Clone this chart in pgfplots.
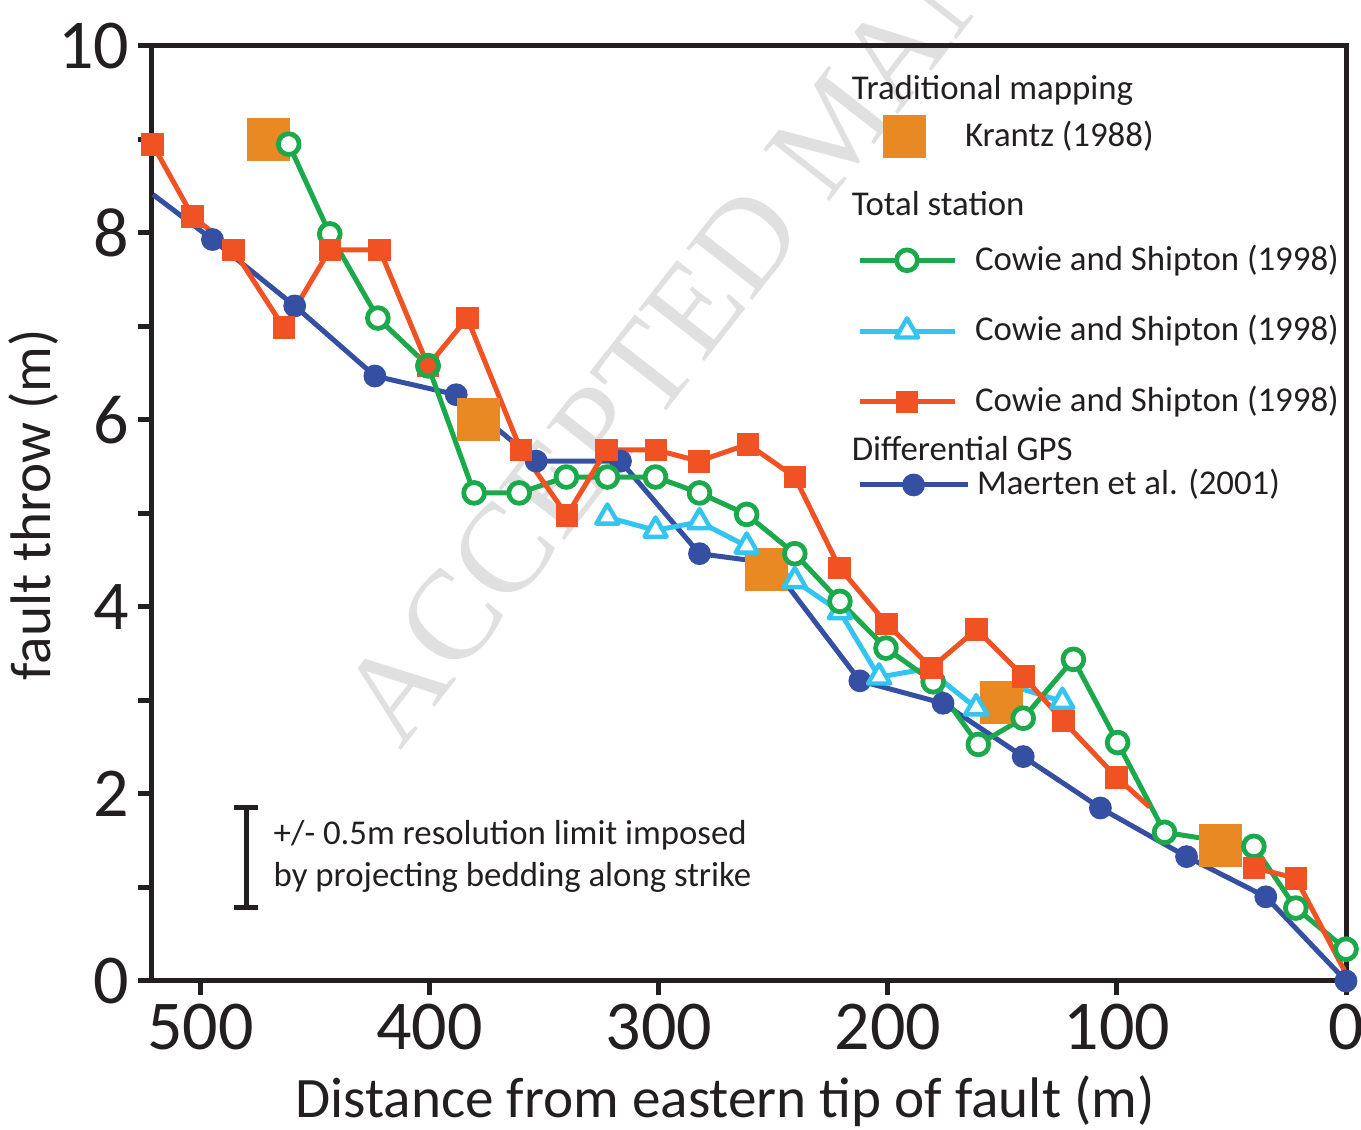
\documentclass[border=0pt]{standalone}
\usepackage{pgfplots}
\pgfplotsset{compat=1.18}
\usepackage{fontspec}
\setmainfont{Carlito}
\newfontfamily\wmfont{Liberation Serif}
\definecolor{axiscol}{HTML}{231F20}
\definecolor{bluec}{HTML}{3550A3}
\definecolor{greenc}{HTML}{1CA94B}
\definecolor{cyanc}{HTML}{34C4F0}
\definecolor{orc}{HTML}{F05223}
\definecolor{krc}{HTML}{E88923}
\pgfplotsset{
  bstyle/.style={color=bluec, line width=1.25pt, line join=round, mark=*, mark size=2.7pt, mark options={fill=bluec, draw=bluec, line width=0.3pt, solid}},
  gstyle/.style={color=greenc, line width=1.25pt, line join=round, mark=*, mark size=2.6pt, mark options={fill=white, draw=greenc, line width=1.2pt, solid}},
  cstyle/.style={color=cyanc, line width=1.25pt, line join=round, mark=triangle*, mark size=3.2pt, mark options={fill=white, draw=cyanc, line width=1.1pt, solid}},
  ostyle/.style={color=orc, line width=1.25pt, line join=round, mark=square*, mark size=2.7pt, mark options={fill=orc, draw=orc, line width=0.2pt, solid}},
  kstyle/.style={only marks, mark=square*, mark size=5.25pt, mark options={fill=krc, draw=krc, line width=0pt}},
  hiddenax/.style={at={(0,0)}, anchor=south west, scale only axis, width=298.5pt, height=233.75pt,
    hide axis, xmin=0, xmax=1, ymin=0, ymax=1},
  lgbase/.style={legend style={draw=none, fill=none, inner sep=0pt, outer sep=0pt,
    font=\fontsize{8.7}{10}\selectfont, text=axiscol, nodes={inner sep=0pt}}, legend cell align=left},
}
\newcommand\hdr[2]{\node[anchor=west, inner sep=0pt, font=\fontsize{8.7}{10}\selectfont, text=axiscol] at (axis description cs:0.5854,#1) {#2};}
\begin{document}
\begin{tikzpicture}
\useasboundingbox (-38pt,-37.25pt) rectangle (302.25pt,245.25pt);
\node[overlay, rotate=52, anchor=base west, inner sep=0pt, text=black!12, font=\wmfont\fontsize{32}{32}\selectfont] at (62pt,57.25pt) {ACCEPTED MANUSCRIPT};
\begin{axis}[
  at={(0,0)}, anchor=south west,
  scale only axis, width=298.5pt, height=233.75pt,
  x dir=reverse, xmin=0, xmax=521.2, ymin=0, ymax=10,
  clip=false,
  axis line style={line width=1.25pt, draw=axiscol},
  xtick={0,100,200,300,400,500},
  ytick={0,2,4,6,8,10},
  minor ytick={1,3,5,7,9},
  tick align=outside,
  xtick pos=left, ytick pos=left,
  major tick length=3.5pt, minor tick length=3.5pt,
  tick style={line width=1.25pt, draw=axiscol},
  ticklabel style={font=\fontsize{17.5}{18}\selectfont, text=axiscol},
  /pgf/number format/assume math mode=true,
  yticklabel style={inner xsep=2pt},
  xticklabel style={inner ysep=2pt},
  xlabel={Distance from eastern tip of fault (m)},
  ylabel={fault throw (m)},
  label style={font=\fontsize{14.3}{16}\selectfont, text=axiscol},
  xlabel style={at={(axis description cs:0.4799,-0.1465)}, anchor=base},
  ylabel style={at={(axis description cs:-0.0854,0.509)}, anchor=base},
  lgbase,
  legend style={at={(axis description cs:0.5905,0.6950)}, anchor=west, row sep=9.85pt, column sep=4.5pt},
  legend image code/.code={\draw[mark repeat=2,mark phase=2,#1] plot coordinates {(0pt,0pt) (11.875pt,0pt) (23.75pt,0pt)};},
]
% blue line (Maerten et al. 2001)
\addplot[bstyle, mark=none, forget plot] coordinates {
(520.7,8.41) (494.8,7.93) (458.9,7.22) (423.9,6.47) (388.4,6.27) (353.5,5.56) (316.7,5.56) (282.2,4.57) (251.3,4.47) (212.2,3.21) (175.9,2.97) (140.9,2.40) (107.2,1.85) (69.6,1.33) (35.0,0.90) (0,0)};
\addplot[bstyle, only marks, forget plot] coordinates {
(494.8,7.93) (458.9,7.22) (423.9,6.47) (388.4,6.27) (353.5,5.56) (316.7,5.56) (282.2,4.57) (251.3,4.47) (212.2,3.21) (175.9,2.97) (140.9,2.40) (107.2,1.85) (69.6,1.33) (35.0,0.90) (0,0)};
% cyan line
\addplot[cstyle, mark=none, forget plot] coordinates {
(322.4,4.96) (301.4,4.82) (282.2,4.91) (261.6,4.65) (240.6,4.28) (220.9,3.95) (203.8,3.25) (182.9,3.34) (161.4,2.92) (141.0,3.12) (123.8,2.99)};
% green line
\addplot[gstyle, mark=none, forget plot] coordinates {
(461.5,8.95) (443.6,7.99) (422.6,7.09) (400.7,6.58) (380.6,5.22) (360.9,5.22) (340.3,5.39) (322.4,5.39) (301.4,5.39) (282.2,5.22) (261.6,4.99) (240.6,4.57) (220.9,4.06) (200.8,3.56) (180.2,3.20) (160.5,2.53) (140.9,2.81) (119.0,3.44) (99.7,2.55) (79.2,1.59) (40.2,1.44) (21.9,0.78) (0,0.34)};
% orange lines
\addplot[ostyle, mark=none, forget plot] coordinates {
(521.0,8.95) (503.5,8.18) (485.6,7.82) (463.7,6.99) (443.6,7.82) (421.8,7.82) (400.7,6.58) (383.6,7.09) (360.2,5.68) (340.1,4.98) (322.8,5.68) (301.2,5.68) (282.5,5.56) (261.0,5.74) (240.6,5.39) (221.1,4.42) (200.5,3.82) (181.0,3.35) (161.3,3.76) (140.9,3.26) (123.4,2.78) (100.2,2.18) (85.7,1.86)};
\addplot[ostyle, mark=none, forget plot] coordinates {(40.2,1.21) (21.9,1.10) (0,0.08)};
% Krantz (1988)
\addplot[kstyle, forget plot] coordinates {
(470.3,9.00) (378.8,6.00) (252.8,4.40) (150.5,2.98) (54.7,1.45)};
% markers on top
\addplot[cstyle, only marks, forget plot] coordinates {
(322.4,4.96) (301.4,4.82) (282.2,4.91) (261.6,4.65) (240.6,4.28) (220.9,3.95) (203.8,3.25) (161.4,2.92) (123.8,2.99)};
\addplot[gstyle, only marks, forget plot] coordinates {
(461.5,8.95) (443.6,7.99) (422.6,7.09) (400.7,6.58) (380.6,5.22) (360.9,5.22) (340.3,5.39) (322.4,5.39) (301.4,5.39) (282.2,5.22) (261.6,4.99) (240.6,4.57) (220.9,4.06) (200.8,3.56) (180.2,3.20) (160.5,2.53) (140.9,2.81) (119.0,3.44) (99.7,2.55) (79.2,1.59) (40.2,1.44) (21.9,0.78) (0,0.34)};
\addplot[ostyle, only marks, forget plot] coordinates {
(521.0,8.95) (503.5,8.18) (485.6,7.82) (463.7,6.99) (443.6,7.82) (421.8,7.82) (400.7,6.58) (383.6,7.09) (360.2,5.68) (340.1,4.98) (322.8,5.68) (301.2,5.68) (282.5,5.56) (261.0,5.74) (240.6,5.39) (221.1,4.42) (200.5,3.82) (181.0,3.35) (161.3,3.76) (140.9,3.26) (123.4,2.78) (100.2,2.18) (40.2,1.21) (21.9,1.10)};
\addplot[only marks, mark=o, color=greenc, mark size=2.6pt, mark options={line width=1.2pt, draw=greenc}, forget plot] coordinates {(400.7,6.58)};
% resolution bar
\addplot[forget plot, mark=none, draw=none, error bars/.cd, y dir=both, y explicit,
  error bar style={draw=axiscol, line width=1.25pt},
  error mark options={rotate=90, mark size=3pt, line width=1.25pt, draw=axiscol}]
  coordinates {(480.0,1.316) +- (0,0.535)};
\node[anchor=west, align=left, inner sep=0pt, font=\fontsize{8.7}{10.5}\selectfont, text=axiscol] at (axis cs:468.4,1.33) {+/- 0.5m resolution limit imposed\\by projecting bedding along strike};
% legend headers
\hdr{0.9529}{Traditional mapping}
\hdr{0.8310}{Total station}
\hdr{0.5690}{Differential GPS}
% legend (total station)
\addlegendimage{gstyle}\addlegendentry{Cowie and Shipton (1998)}
\addlegendimage{cstyle}\addlegendentry{Cowie and Shipton (1998)}
\addlegendimage{ostyle}\addlegendentry{Cowie and Shipton (1998)}
\end{axis}
% legend: Krantz
\begin{axis}[hiddenax, lgbase,
  legend style={at={(axis description cs:0.5905,0.9027)}, anchor=west, column sep=3.25pt},
  legend image code/.code={\path[draw=none, fill=none] (0pt,0pt) -- (23.75pt,0pt); \draw[#1] plot coordinates {(11.875pt,0pt)};}]
\addlegendimage{kstyle}\addlegendentry{Krantz (1988)}
\end{axis}
% legend: Maerten
\begin{axis}[hiddenax, lgbase,
  legend style={at={(axis description cs:0.5905,0.5305)}, anchor=west, column sep=1.75pt},
  legend image code/.code={\draw[mark repeat=2,mark phase=2,#1] plot coordinates {(0pt,0pt) (13.5pt,0pt) (27pt,0pt)};}]
\addlegendimage{bstyle}\addlegendentry{Maerten et al. (2001)}
\end{axis}
\end{tikzpicture}
\end{document}
